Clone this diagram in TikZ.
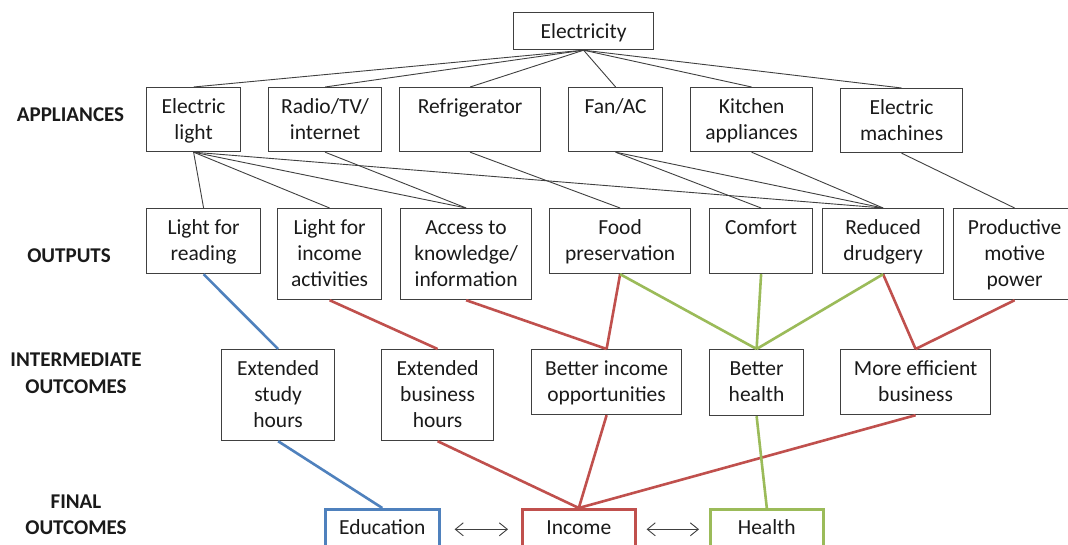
\documentclass[tikz,border=0pt]{standalone}
\usepackage{fontspec}
\setmainfont{Carlito}
\usetikzlibrary{arrows.meta}
\definecolor{cblue}{HTML}{4F81BD}
\definecolor{cred}{HTML}{C0504D}
\definecolor{cgreen}{HTML}{9BBB59}
\definecolor{cline}{HTML}{404040}
\definecolor{ctext}{HTML}{1A1A1A}
\tikzset{
  box/.style={draw=cline, line width=1.2pt, inner sep=0pt, fill=white},
  boxtext/.style={anchor=north, align=center, inner xsep=0pt, inner ysep=7.8pt,
    font=\fontsize{21.5}{26}\selectfont, text=ctext},
  rowlabel/.style={align=center, inner sep=0pt, font=\bfseries\fontsize{21}{26.5}\selectfont, text=ctext},
  conn/.style={draw=cline, line width=0.9pt},
  bluel/.style={draw=cblue, line width=2.6pt},
  redl/.style={draw=cred, line width=2.6pt},
  greenl/.style={draw=cgreen, line width=2.6pt},
  finalbox/.style={box, line width=2.6pt},
  dbl/.style={draw=cline, line width=0.9pt, {Straight Barb[length=8pt,width=13pt]}-{Straight Barb[length=8pt,width=13pt]}}
}
\newcommand{\bx}[7][]{%
  \node[box,#1,minimum width=#5pt,minimum height=#6pt,anchor=north west] (#2) at (#3,#4) {};
  \node[boxtext] (#2-t) at (#2.north) {\strut#7};
}
\begin{document}
\begin{tikzpicture}[x=1pt,y=-1pt]
\useasboundingbox (0,0) rectangle (1068,545);
\fill[white] (0,0) rectangle (1068,545);

% row labels
\node[rowlabel] (lab-app) at (70.5,114.5) {APPLIANCES};
\node[rowlabel] (lab-out) at (69,256) {OUTPUTS};
\node[rowlabel] (lab-int) at (76,373.5) {INTERMEDIATE\\OUTCOMES};
\node[rowlabel] (lab-fin) at (76,515) {FINAL\\OUTCOMES};

% boxes
\bx{elec}{513}{12}{140}{37}{Electricity}

\bx{elight}{146}{87}{94}{64}{Electric\\light}
\bx{radio}{268}{87}{113}{64}{Radio/TV/\\internet}
\bx{fridge}{399}{87}{141}{64}{Refrigerator}
\bx{fan}{568}{87}{94}{64}{Fan/AC}
\bx{kitchen}{690}{87}{122}{64}{Kitchen\\appliances}
\bx{emach}{840}{88}{122}{64}{Electric\\machines}

\bx{lread}{146}{208}{114}{65}{Light for\\reading}
\bx{lincome}{277}{208}{104}{91}{Light for\\income\\activities}
\bx{access}{400}{208}{131}{91}{Access to\\knowledge/\\information}
\bx{food}{549}{208}{141}{65}{Food\\preservation}
\bx{comfort}{709}{208}{103}{65}{Comfort}
\bx{reduced}{822}{208}{121}{65}{Reduced\\drudgery}
\bx{productive}{953}{208}{122}{91}{Productive\\motive\\power}

\bx{exstudy}{221}{349}{113}{91}{Extended\\study\\hours}
\bx{exbus}{381}{349}{112}{91}{Extended\\business\\hours}
\bx{betinc}{531}{349}{150}{65}{Better income\\opportunities}
\bx{bethealth}{709}{349}{94}{66}{Better\\health}
\bx{moreeff}{840}{349}{150}{65}{More efficient\\business}

\bx[finalbox,draw=cblue]{edu}{324}{508}{114}{50}{Education}
\bx[finalbox,draw=cred]{income}{521}{508}{113}{50}{Income}
\bx[finalbox,draw=cgreen]{health}{709}{508}{113}{50}{Health}

% black connectors
\foreach \a in {elight,radio,fridge,fan,kitchen,emach}
  \draw[conn] (elec.south) -- (\a.north);
\draw[conn] (elight.south) -- (lread.north);
\draw[conn] (elight.south) -- (lincome.north);
\draw[conn] (elight.south) -- (access.north);
\draw[conn] (elight.south) -- (reduced.north);
\draw[conn] (radio.south) -- (access.north);
\draw[conn] (fridge.south) -- (food.north);
\draw[conn] (fan.south) -- (comfort.north);
\draw[conn] (fan.south) -- (reduced.north);
\draw[conn] (kitchen.south) -- (reduced.north);
\draw[conn] (emach.south) -- (productive.north);

% coloured connectors
\draw[bluel] (lread.south) -- (exstudy.north);
\draw[bluel] (exstudy.south) -- (edu.north);

\draw[redl] (lincome.south) -- (exbus.north);
\draw[redl] (access.south) -- (betinc.north);
\draw[redl] (food.south) -- (betinc.north);
\draw[redl] (reduced.south) -- (moreeff.north);
\draw[redl] (productive.south) -- (moreeff.north);
\draw[redl] (exbus.south) -- (income.north);
\draw[redl] (betinc.south) -- (income.north);
\draw[redl] (moreeff.south) -- (income.north);

\draw[greenl] (food.south) -- (bethealth.north);
\draw[greenl] (comfort.south) -- (bethealth.north);
\draw[greenl] (reduced.south) -- (bethealth.north);
\draw[greenl] (bethealth.south) -- (health.north);

% double arrows
\draw[dbl, shorten <=14pt, shorten >=13pt] ([yshift=5pt]edu.east) -- ([yshift=5pt]income.west);
\draw[dbl, shorten <=10pt, shorten >=10pt] ([yshift=5pt]income.east) -- ([yshift=5pt]health.west);
\end{tikzpicture}
\end{document}
